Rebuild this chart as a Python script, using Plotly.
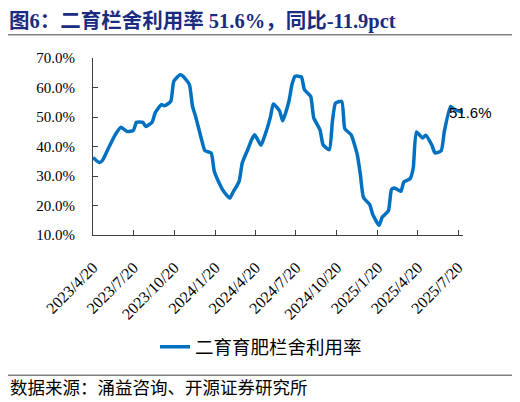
import plotly.graph_objects as go

# 二育栏舍利用率 (%), weekly readings taken off the chart
dates = ['2023-04-20', '2023-05-04', '2023-05-11', '2023-05-25', '2023-06-08', '2023-06-22',
         '2023-07-06', '2023-07-20', '2023-07-27', '2023-08-10', '2023-08-17', '2023-08-31',
         '2023-09-07', '2023-09-21', '2023-09-28', '2023-10-12', '2023-10-19', '2023-11-02',
         '2023-11-09', '2023-11-23', '2023-11-30', '2023-12-07', '2023-12-21', '2023-12-28',
         '2024-01-11', '2024-01-18', '2024-02-01', '2024-02-08', '2024-02-22', '2024-02-29',
         '2024-03-14', '2024-03-21', '2024-04-04', '2024-04-11', '2024-04-18', '2024-05-02',
         '2024-05-09', '2024-05-23', '2024-05-30', '2024-06-13', '2024-06-20', '2024-07-04',
         '2024-07-11', '2024-07-18', '2024-08-01', '2024-08-08', '2024-08-22', '2024-08-29',
         '2024-09-12', '2024-09-19', '2024-10-03', '2024-10-10', '2024-10-17', '2024-10-31',
         '2024-11-07', '2024-11-21', '2024-12-05', '2024-12-12', '2024-12-19', '2025-01-02',
         '2025-01-09', '2025-01-23', '2025-01-30', '2025-02-13', '2025-02-20', '2025-02-27',
         '2025-03-13', '2025-03-20', '2025-04-03', '2025-04-10', '2025-04-17', '2025-05-01',
         '2025-05-08', '2025-05-22', '2025-05-29', '2025-06-12', '2025-06-19', '2025-07-03',
         '2025-07-10', '2025-07-31']
usage = [36.3, 34.6, 35.2, 39.5, 43.7, 46.5,
         45.1, 45.5, 48.2, 48.2, 46.8, 48.2,
         51.4, 54.2, 53.8, 55.3, 62.1, 64.3,
         63.8, 61.0, 53.6, 50.2, 42.0, 38.6,
         37.8, 31.6, 26.7, 24.8, 22.5, 24.4,
         28.2, 34.4, 39.5, 42.3, 44.0, 40.4,
         42.9, 49.7, 54.4, 52.1, 48.7, 55.3,
         61.0, 63.8, 63.6, 59.3, 57.0, 49.7,
         45.7, 40.6, 38.9, 48.5, 54.7, 55.3,
         46.0, 44.0, 37.2, 30.4, 22.7, 20.3,
         16.9, 13.3, 16.0, 18.2, 25.4, 25.9,
         24.8, 28.0, 29.1, 32.7, 44.9, 42.9,
         43.8, 40.4, 37.8, 38.6, 45.1, 53.6,
         52.7, 51.6]

tick_dates = ['2023-04-20', '2023-07-20', '2023-10-20', '2024-01-20', '2024-04-20',
              '2024-07-20', '2024-10-20', '2025-01-20', '2025-04-20', '2025-07-20']
tick_text = ['2023/4/20', '2023/7/20', '2023/10/20', '2024/1/20', '2024/4/20',
             '2024/7/20', '2024/10/20', '2025/1/20', '2025/4/20', '2025/7/20']

# plot area is 370 x 176.7 px; page items are placed relative to it
PW, PH = 370, 176.7


def px_x(x):
    return (x - 93) / PW


def px_y(y):
    return (235 - y) / PH


fig = go.Figure()
fig.add_trace(go.Scatter(
    x=dates, y=usage, mode='lines', name='二育育肥栏舍利用率',
    line=dict(color='#0070C0', width=3.5, shape='spline', smoothing=0.5)))

fig.add_annotation(x=dates[-1], y=usage[-1], text=f'{usage[-1]}%', showarrow=False,
                   xanchor='center', yanchor='middle', xshift=7,
                   font=dict(family='Liberation Sans', size=15, color='#000000'))

fig.add_annotation(xref='paper', yref='paper', x=px_x(8), y=px_y(8),
                   xanchor='left', yanchor='top', showarrow=False, borderpad=0,
                   text='<b>图6：二育栏舍利用率 51.6%，同比-11.9pct</b>',
                   font=dict(family='Liberation Serif, Noto Sans CJK SC', size=20.5, color='#1B2B7F'))
fig.add_annotation(xref='paper', yref='paper', x=px_x(8), y=px_y(386),
                   xanchor='left', yanchor='middle', showarrow=False,
                   text='数据来源：涌益咨询、开源证券研究所',
                   font=dict(family='Noto Sans CJK SC', size=17.5, color='#000000'))

for y_px in (35, 375):
    fig.add_shape(type='line', xref='paper', yref='paper',
                  x0=px_x(8), x1=px_x(515), y0=px_y(y_px), y1=px_y(y_px),
                  line=dict(color='#808080', width=1.5))

# the page body keeps an 8 px margin, so the figure is 8 px smaller each way
fig.update_layout(
    width=512, height=394,
    margin=dict(l=85, r=57, t=50, b=167, autoexpand=False),
    paper_bgcolor='#FFFFFF', plot_bgcolor='#FFFFFF',
    showlegend=True,
    legend=dict(orientation='h', x=px_x(261), y=px_y(347), xanchor='center', yanchor='middle',
                font=dict(family='Noto Sans CJK SC', size=18.5, color='#000000')),
    xaxis=dict(range=['2023-04-20', '2025-07-31'], tickvals=tick_dates, ticktext=tick_text,
               tickangle=-45, ticks='inside', ticklen=5, tickcolor='#404040',
               showline=True, linecolor='#404040', linewidth=1, showgrid=False, zeroline=False,
               ticklabelstandoff=16,
               tickfont=dict(family='Liberation Serif', size=16, color='#000000')),
    yaxis=dict(range=[10, 70], dtick=10, tickformat='.1f', ticksuffix='%',
               ticks='inside', ticklen=5, tickcolor='#404040',
               showline=True, linecolor='#404040', linewidth=1, showgrid=False, zeroline=False,
               ticklabelstandoff=14,
               tickfont=dict(family='Liberation Serif', size=15, color='#000000')),
)

fig.write_html("out.html")
